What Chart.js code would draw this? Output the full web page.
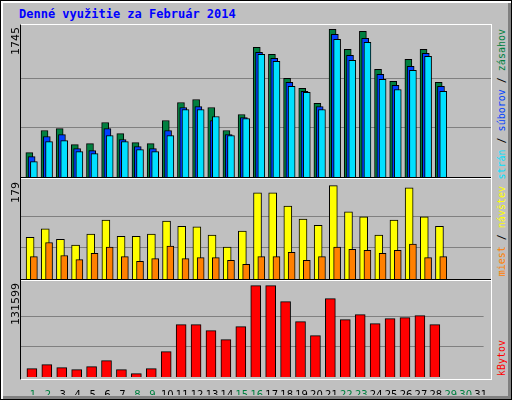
<!DOCTYPE html>
<html>
<head>
<meta charset="utf-8">
<script src="https://cdn.jsdelivr.net/npm/chart.js@4"></script>
<style>
body { margin: 0; background: #fff; }
#frame { position: absolute; left: 0; top: 0; width: 510px; height: 398px; border: 1px solid #000; background: #C0C0C0;
  box-shadow: inset 2px 2px 0 #fff, inset -3px -3px 0 #808080; }
#title { position: absolute; left: 19px; top: 7px; font: bold 12px "DejaVu Sans Mono", monospace; color: #0000FF; }
#plot { position: absolute; left: 20px; top: 24px; width: 470px; height: 354px; border-left: 1px solid #000; border-top: 1px solid #fff; border-right: 1px solid #fff; border-bottom: 1px solid #fff; }
.sep { position: absolute; left: 21px; width: 470px; height: 1px; background: #fff; }
.sep2 { position: absolute; left: 21px; width: 470px; height: 1px; background: #000; }
.box { position: absolute; left: 21px; width: 470px; }
.vl { position: absolute; writing-mode: vertical-rl; transform: rotate(180deg); font: 11px "DejaVu Sans", sans-serif; white-space: nowrap; }
.vr { position: absolute; writing-mode: vertical-rl; transform: rotate(180deg); font: 10px "DejaVu Sans Mono", monospace; white-space: nowrap; }
</style>
</head>
<body>
<div id="frame"></div>
<div id="title">Denné využitie za Február 2014</div>
<div id="plot"></div>
<div class="sep2" style="top:177px"></div><div class="sep" style="top:178px"></div>
<div class="sep2" style="top:279px"></div><div class="sep" style="top:280px"></div>
<div class="box" style="top:25px;height:152px"><canvas id="c1"></canvas></div>
<div class="box" style="top:179px;height:100px"><canvas id="c2"></canvas></div>
<div class="box" style="top:281px;height:114px"><canvas id="c3"></canvas></div>
<div class="vl" style="left:9px;top:27px">1745</div>
<div class="vl" style="left:9px;top:182px">179</div>
<div class="vl" style="left:9px;top:283px">131599</div>
<div class="vr" style="left:496px;top:29px"><span style="color:#00E0FF">strán</span> / <span style="color:#0040FF">súborov</span> / <span style="color:#008040">zásahov</span></div>
<div class="vr" style="left:496px;top:186px"><span style="color:#FF8000">miest</span> / <span style="color:#FFFF00">návštev</span></div>
<div class="vr" style="left:496px;top:340px;color:#FF0000">kBytov</div>
<script>
var days = [];
for (var d = 1; d <= 31; d++) days.push(d);
var weekendDays = [1, 2, 8, 9, 15, 16, 22, 23, 29, 30];

var hits = [288, 549, 572, 383, 395, 644, 513, 407, 395, 667, 880, 916, 821, 549, 738, 1532, 1449, 1165, 1046, 869, 1745, 1508, 1721, 1271, 1129, 1390, 1508, 1117];
var files = [241, 478, 501, 336, 312, 572, 442, 359, 336, 549, 821, 833, 667, 501, 703, 1473, 1402, 1117, 1011, 833, 1686, 1437, 1638, 1212, 1082, 1307, 1461, 1070];
var pages = [182, 418, 430, 300, 276, 490, 418, 324, 300, 490, 797, 797, 715, 490, 691, 1449, 1366, 1070, 999, 797, 1627, 1378, 1591, 1153, 1034, 1259, 1425, 1011];
var visits = [80, 96, 76, 65, 86, 113, 82, 82, 86, 111, 101, 100, 84, 61, 92, 165, 165, 140, 115, 103, 179, 129, 119, 84, 113, 175, 119, 101];
var sites = [43, 70, 45, 37, 49, 61, 43, 34, 39, 63, 39, 41, 41, 36, 28, 43, 43, 51, 36, 43, 61, 57, 55, 49, 55, 67, 41, 43];
var kbytes = [12008, 17771, 13448, 10567, 14889, 23535, 10567, 4803, 12008, 36503, 75407, 75407, 66762, 53794, 72525, 131599, 131599, 108548, 79730, 59557, 112871, 82612, 89816, 76848, 84053, 85493, 88375, 75407];

var maxHits = 1745, maxVisits = 179, maxKbytes = 131599;

// posun stĺpcov v rámci dňa (ako vo webalizeri)
function pts(arr, shift) {
  return arr.map(function(v, i) { return { x: days[i] + shift, y: v }; });
}
function ds(arr, shift, color, w, ord) {
  return { data: pts(arr, shift), backgroundColor: color, borderColor: '#000', borderWidth: 1, barThickness: w, borderSkipped: 'bottom', grouped: false, order: ord };
}

function makeChart(id, datasets, ymax, showX) {
  return new Chart(document.getElementById(id), {
    type: 'bar',
    data: { datasets: datasets },
    options: {
      maintainAspectRatio: false, animation: false,
      layout: { padding: 0 },
      plugins: { legend: { display: false }, tooltip: { enabled: false } },
      scales: {
        x: {
          type: 'linear', min: 0.2, max: 31.2, offset: false,
          grid: { display: false }, border: { display: false },
          afterBuildTicks: function(s) { s.ticks = days.map(function(v) { return { value: v }; }); },
          afterFit: function(s) { s.height = showX ? 18 : 0; },
          ticks: {
            display: showX, padding: 4, maxRotation: 0, autoSkip: false,
            font: { family: 'DejaVu Sans', size: 10 },
            color: function(c) { return weekendDays.indexOf(c.tick.value) >= 0 ? '#008040' : '#000'; }
          }
        },
        y: {
          min: 0, max: ymax,
          afterBuildTicks: function(s) { var m = datasets.maxVal; s.ticks = [{ value: m / 3 }, { value: 2 * m / 3 }]; },
          afterFit: function(s) { s.width = 0; },
          ticks: { display: false },
          grid: { color: '#808080', lineWidth: 1, drawTicks: false },
          border: { display: false }
        }
      }
    }
  });
}

var set1 = [ds(hits, -0.25, '#008040', 7, 2), ds(files, -0.1, '#0040FF', 7, 1), ds(pages, 0.05, '#00E0FF', 7, 0)];
set1.maxVal = maxHits;
var set2 = [ds(visits, -0.2, '#FFFF00', 8, 1), ds(sites, 0.05, '#FF8000', 7, 0)];
set2.maxVal = maxVisits;
var set3 = [ds(kbytes, -0.07, '#FF0000', 10, 0)];
set3.maxVal = maxKbytes;

makeChart('c1', set1, maxHits * 1.029, false);
makeChart('c2', set2, maxVisits * 1.071, false);
makeChart('c3', set3, maxKbytes * 1.05, true);
</script>
</body>
</html>
